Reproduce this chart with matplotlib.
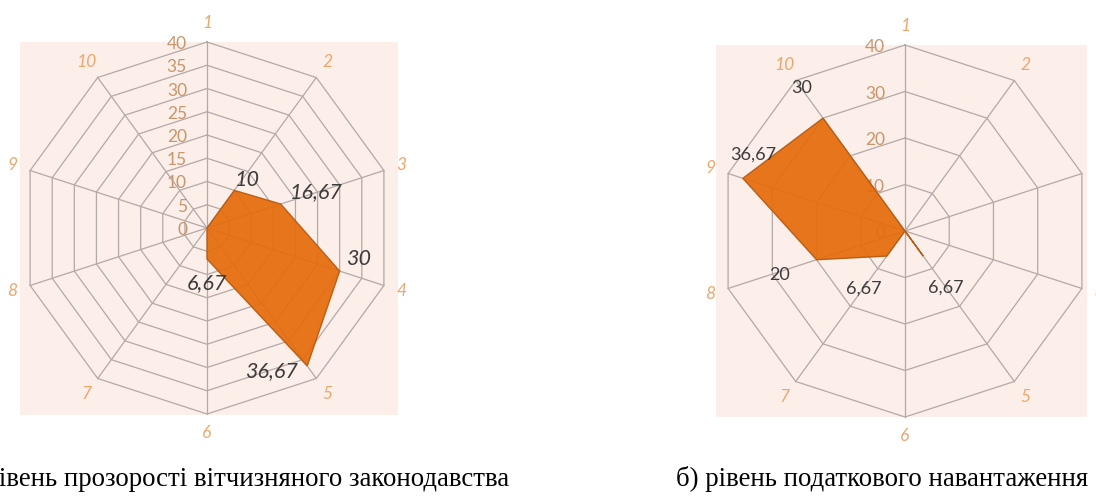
import numpy as np
import matplotlib
matplotlib.use('Agg')
import matplotlib.pyplot as plt
from matplotlib.patches import Rectangle
from matplotlib.transforms import offset_copy

# ---------------- data ----------------
categories = ['1', '2', '3', '4', '5', '6', '7', '8', '9', '10']
values_a = [0, 10, 16.67, 30, 36.67, 6.67, 0, 0, 0, 0]
values_b = [0, 0, 0, 0, 6.67, 0, 6.67, 20, 36.67, 30]
rings_a = [0, 5, 10, 15, 20, 25, 30, 35, 40]
rings_b = [0, 10, 20, 30, 40]
caption_a = 'а) рівень прозорості вітчизняного законодавства'
caption_b = 'б) рівень податкового навантаження'

# ---------------- style ----------------
W, H = 1096, 496
BG = '#FCEEE8'
GRID = '#B3A9A9'
FILL = '#E56C0C'
EDGE = '#B65A12'
CAT_COLOR = '#EFA66C'
TICK_COLOR = '#C9956B'
LABEL_COLOR = '#3C3C3C'
R_PX = 186
RMAX = 40

# data label pixel offsets (dx right, dy up)
offs_a = {1: (13, 10), 2: (36, 12), 3: (19, 12), 4: (-36, -5), 5: (0, -24)}
offs_b = {4: (23, -32), 6: (-23, -33), 7: (-37, -15), 8: (10, 24), 9: (-21, 30)}

fig = plt.figure(figsize=(W / 100, H / 100), dpi=100)
fig.patch.set_facecolor('white')


def px_rect(x0, y0, x1, y1):
    return (x0 / W, 1 - y1 / H, (x1 - x0) / W, (y1 - y0) / H)


def radar(cx, cy, values, rings, offs, italic_labels, label_size, bg_box):
    bx = px_rect(*bg_box)
    fig.add_artist(Rectangle((bx[0], bx[1]), bx[2], bx[3], transform=fig.transFigure,
                             facecolor=BG, edgecolor='none', zorder=0))
    ax = fig.add_axes(px_rect(cx - R_PX, cy - R_PX, cx + R_PX, cy + R_PX),
                      projection='polar')
    ax.set_theta_zero_location('N')
    ax.set_theta_direction(-1)
    ax.set_ylim(0, RMAX)
    ax.axis('off')
    ax.patch.set_visible(False)
    n = len(categories)
    theta = np.linspace(0, 2 * np.pi, n, endpoint=False)
    tc = np.append(theta, theta[0])
    # ring polygons
    for r in rings[1:]:
        ax.plot(tc, [r] * (n + 1), color=GRID, lw=0.9, zorder=1, clip_on=False)
    # spokes
    for t in theta:
        ax.plot([t, t], [0, rings[-1]], color=GRID, lw=0.9, zorder=1, clip_on=False)
    # radial tick labels
    ttr = offset_copy(ax.transData, fig=fig, x=-20, y=-2, units='dots')
    for r in rings:
        ax.text(0, r, str(r), transform=ttr, ha='right', va='center',
                fontsize=12.5, color=TICK_COLOR, family='Lato', zorder=2, clip_on=False)
    # category labels
    for t, c in zip(theta, categories):
        ax.text(t, RMAX * 1.1, c, ha='center', va='center', fontsize=12.5,
                fontstyle='italic', color=CAT_COLOR, family='Lato', clip_on=False)
    # data polygon
    vc = list(values) + [values[0]]
    ax.fill(tc, vc, facecolor=FILL, edgecolor=EDGE, lw=1.0, alpha=0.93, zorder=3,
            clip_on=False)
    # data labels
    for i, v in enumerate(values):
        if v == 0:
            continue
        dx, dy = offs[i]
        tr = offset_copy(ax.transData, fig=fig, x=dx, y=dy, units='dots')
        s = f'{v:g}'.replace('.', ',')
        ax.text(theta[i], v, s, transform=tr, ha='center', va='center',
                fontsize=label_size, color=LABEL_COLOR, family='Lato',
                fontstyle='italic' if italic_labels else 'normal', zorder=5, clip_on=False)
    return ax


radar(207, 228, values_a, rings_a, offs_a, True, 15.5, (20, 42, 398, 415))
radar(905, 231, values_b, rings_b, offs_b, False, 13, (716, 45, 1087, 417))

fig.text(509 / W, 1 - 479 / H, caption_a, ha='right', va='center', fontsize=19.3,
         family='Liberation Serif', color='black')
fig.text(676 / W, 1 - 479 / H, caption_b, ha='left', va='center', fontsize=19.3,
         family='Liberation Serif', color='black')

fig.savefig('out.png', dpi=100)
